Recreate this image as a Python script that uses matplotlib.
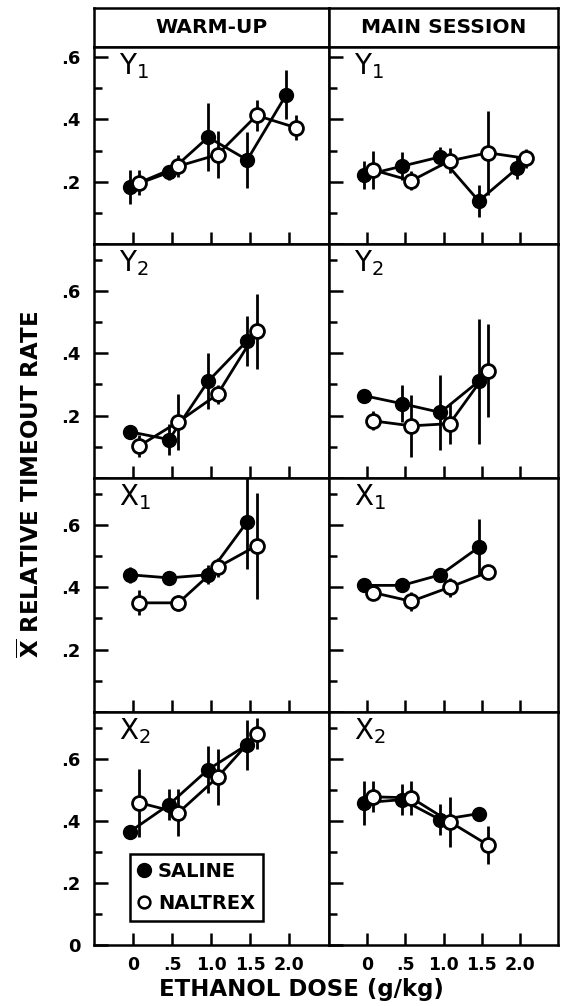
import matplotlib
matplotlib.use('Agg')
import matplotlib.pyplot as plt
from matplotlib.lines import Line2D
from matplotlib.ticker import MultipleLocator, FuncFormatter

plt.rcParams['font.family'] = ['DejaVu Sans']
plt.rcParams['mathtext.default'] = 'regular'

doses = [0, 0.5, 1.0, 1.5, 2.0]
dose_labels = ['0', '.5', '1.0', '1.5', '2.0']
sessions = ['WARM-UP', 'MAIN SESSION']
measures = ['Y$_1$', 'Y$_2$', 'X$_1$', 'X$_2$']
groups = ['SALINE', 'NALTREX']

# warm-up session, mean relative timeout rate and error bar half-length
wu_y1_sal = [0.184, 0.23, 0.343, 0.27, 0.48]
wu_y1_sal_err = [0.055, 0.025, 0.11, 0.09, 0.08]
wu_y1_nal = [0.197, 0.25, 0.287, 0.413, 0.374]
wu_y1_nal_err = [0.04, 0.035, 0.075, 0.05, 0.04]

wu_y2_sal = [0.148, 0.123, 0.31, 0.44]
wu_y2_sal_err = [0.015, 0.05, 0.09, 0.08]
wu_y2_nal = [0.103, 0.18, 0.268, 0.47]
wu_y2_nal_err = [0.035, 0.09, 0.03, 0.12]

wu_x1_sal = [0.44, 0.43, 0.44, 0.61]
wu_x1_sal_err = [0.025, 0.015, 0.03, 0.15]
wu_x1_nal = [0.35, 0.35, 0.464, 0.533]
wu_x1_nal_err = [0.04, 0.025, 0.03, 0.17]

wu_x2_sal = [0.365, 0.452, 0.565, 0.645]
wu_x2_sal_err = [0.0, 0.05, 0.075, 0.08]
wu_x2_nal = [0.458, 0.426, 0.54, 0.68]
wu_x2_nal_err = [0.11, 0.075, 0.09, 0.05]

# main session
ms_y1_sal = [0.22, 0.25, 0.28, 0.138, 0.243]
ms_y1_sal_err = [0.045, 0.045, 0.03, 0.05, 0.035]
ms_y1_nal = [0.238, 0.203, 0.267, 0.293, 0.275]
ms_y1_nal_err = [0.06, 0.03, 0.04, 0.135, 0.03]

ms_y2_sal = [0.264, 0.238, 0.21, 0.31]
ms_y2_sal_err = [0.015, 0.06, 0.12, 0.2]
ms_y2_nal = [0.183, 0.167, 0.174, 0.344]
ms_y2_nal_err = [0.03, 0.1, 0.065, 0.15]

ms_x1_sal = [0.406, 0.406, 0.44, 0.528]
ms_x1_sal_err = [0.02, 0.02, 0.02, 0.09]
ms_x1_nal = [0.383, 0.355, 0.40, 0.448]
ms_x1_nal_err = [0.02, 0.03, 0.03, 0.02]

ms_x2_sal = [0.458, 0.468, 0.403, 0.423]
ms_x2_sal_err = [0.07, 0.05, 0.05, 0.02]
ms_x2_nal = [0.477, 0.474, 0.397, 0.322]
ms_x2_nal_err = [0.05, 0.055, 0.08, 0.06]

panel_data = [
    [(wu_y1_sal, wu_y1_sal_err, wu_y1_nal, wu_y1_nal_err),
     (wu_y2_sal, wu_y2_sal_err, wu_y2_nal, wu_y2_nal_err),
     (wu_x1_sal, wu_x1_sal_err, wu_x1_nal, wu_x1_nal_err),
     (wu_x2_sal, wu_x2_sal_err, wu_x2_nal, wu_x2_nal_err)],
    [(ms_y1_sal, ms_y1_sal_err, ms_y1_nal, ms_y1_nal_err),
     (ms_y2_sal, ms_y2_sal_err, ms_y2_nal, ms_y2_nal_err),
     (ms_x1_sal, ms_x1_sal_err, ms_x1_nal, ms_x1_nal_err),
     (ms_x2_sal, ms_x2_sal_err, ms_x2_nal, ms_x2_nal_err)],
]

fig = plt.figure(figsize=(5.63, 10.06), dpi=100)

lefts = [0.167, 0.5835]
widths = [0.4165, 0.4085]
bottoms = [0.7575, 0.5249, 0.2922, 0.0606]
heights = [0.1958, 0.2326, 0.2326, 0.2316]
ytops = [0.633, 0.75, 0.75, 0.75]
lw = 1.8
dlw = 2.0


def ylab(v, pos, show_zero=False):
    if abs(v) < 1e-9:
        return '0' if show_zero else ''
    return ('%.1f' % v).lstrip('0')


for c in range(2):
    # column header box
    hax = fig.add_axes([lefts[c], 0.9533, widths[c], 0.0388])
    hax.set_xticks([])
    hax.set_yticks([])
    for s in hax.spines.values():
        s.set_linewidth(lw)
    hax.text(0.5, 0.5, sessions[c], ha='center', va='center',
             fontsize=14.5, fontweight='bold', transform=hax.transAxes)

    for r in range(4):
        ax = fig.add_axes([lefts[c], bottoms[r], widths[c], heights[r]])
        sal, sal_err, nal, nal_err = panel_data[c][r]
        n = len(sal)
        x_sal = [d - 0.04 for d in doses[:n]]
        x_nal = [d + 0.08 for d in doses[:n]]

        ax.errorbar(x_sal, sal, yerr=sal_err, fmt='-o', color='k', mfc='k',
                    mec='k', ms=10, lw=dlw, elinewidth=dlw, capsize=0, zorder=3)
        ax.errorbar(x_nal, nal, yerr=nal_err, fmt='-o', color='k', mfc='white',
                    mec='k', mew=dlw, ms=10, lw=dlw, elinewidth=dlw, capsize=0,
                    zorder=4)

        ax.set_xlim(-0.5, 2.5)
        ax.set_ylim(0, ytops[r])
        for s in ax.spines.values():
            s.set_linewidth(lw)

        ax.set_xticks(doses)
        ax.yaxis.set_major_locator(MultipleLocator(0.2))
        ax.yaxis.set_minor_locator(MultipleLocator(0.1))
        ax.tick_params(axis='x', direction='in', length=8.5, width=lw,
                       pad=8, labelsize=12.5)
        ax.tick_params(axis='y', which='major', direction='in', length=10,
                       width=lw, pad=10, labelsize=13)
        ax.tick_params(axis='y', which='minor', direction='in', length=5.5,
                       width=lw)

        if r == 3:
            ax.set_xticklabels(dose_labels, fontweight='bold')
        else:
            ax.set_xticklabels([])
        if c == 0:
            bottom_panel = (r == 3)
            ax.yaxis.set_major_formatter(
                FuncFormatter(lambda v, p, z=bottom_panel: ylab(v, p, z)))
            for t in ax.get_yticklabels():
                t.set_fontweight('bold')
        else:
            ax.set_yticklabels([])

        ax.annotate(measures[r], xy=(0, 1), xycoords='axes fraction',
                    xytext=(18, -3), textcoords='offset points',
                    ha='left', va='top', fontsize=20)

        if c == 0 and r == 3:
            handles = [Line2D([], [], marker='o', ls='none', mfc='k', mec='k', ms=10),
                       Line2D([], [], marker='o', ls='none', mfc='white',
                              mec='k', mew=lw, ms=8.5)]
            leg = ax.legend(handles, groups, loc='lower left',
                            bbox_to_anchor=(0.153, 0.103), frameon=True,
                            fancybox=False, edgecolor='k', framealpha=1,
                            handlelength=0.7, handletextpad=0.35,
                            borderpad=0.4, labelspacing=0.7,
                            borderaxespad=0,
                            prop={'weight': 'bold', 'size': 14})
            leg.get_frame().set_linewidth(lw)

fig.text(0.055, 0.519, r'$\overline{\mathbf{X}}$ RELATIVE TIMEOUT RATE',
         rotation=90, ha='center', va='center', fontsize=16.5, fontweight='bold')
fig.text(0.535, 0.016, 'ETHANOL DOSE (g/kg)', ha='center', va='center',
         fontsize=16.5, fontweight='bold')

fig.savefig('out.png', dpi=100)
